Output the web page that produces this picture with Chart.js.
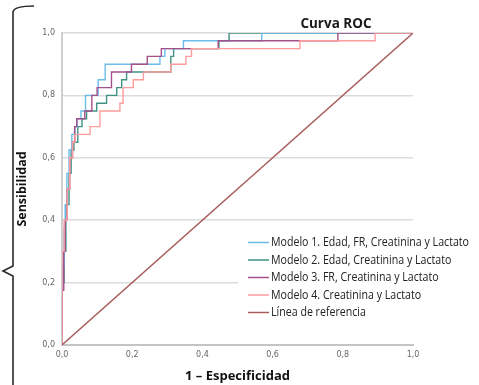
<!DOCTYPE html>
<html lang="es">
<head>
<meta charset="utf-8">
<title>Curva ROC</title>
<script src="https://cdn.jsdelivr.net/npm/chart.js@4.4.1/dist/chart.umd.min.js"></script>
<style>
  html, body { margin: 0; padding: 0; background: #fff; }
  canvas { display: block; }
</style>
</head>
<body>
<canvas id="roc" width="479" height="385"></canvas>
<script>
// ROC step points: the curve moves right to fpr, then up to tpr
const m1Fpr = [0, 0, 0.006, 0.009, 0.014, 0.02, 0.028, 0.037, 0.043, 0.054, 0.067, 0.103, 0.123, 0.279, 0.293, 0.346, 0.569, 1];
const m1Tpr = [0, 0.25, 0.375, 0.45, 0.55, 0.625, 0.675, 0.7, 0.725, 0.75, 0.8, 0.85, 0.9, 0.925, 0.95, 0.975, 1, 1];

const m2Fpr = [0, 0, 0.006, 0.011, 0.02, 0.026, 0.034, 0.045, 0.057, 0.07, 0.099, 0.127, 0.156, 0.17, 0.184, 0.31, 0.318, 0.447, 0.476, 1];
const m2Tpr = [0, 0.2, 0.3, 0.45, 0.55, 0.625, 0.65, 0.7, 0.725, 0.75, 0.775, 0.8, 0.825, 0.85, 0.875, 0.925, 0.95, 0.975, 1, 1];

const m3Fpr = [0, 0, 0.005, 0.009, 0.015, 0.022, 0.03, 0.036, 0.042, 0.065, 0.085, 0.1, 0.141, 0.198, 0.243, 0.283, 0.445, 0.786, 1];
const m3Tpr = [0, 0.175, 0.3, 0.4, 0.5, 0.6, 0.65, 0.7, 0.725, 0.75, 0.8, 0.825, 0.875, 0.9, 0.925, 0.95, 0.975, 1, 1];

const m4Fpr = [0, 0, 0.006, 0.015, 0.022, 0.03, 0.037, 0.08, 0.108, 0.165, 0.174, 0.203, 0.232, 0.31, 0.353, 0.369, 0.678, 0.892, 1];
const m4Tpr = [0, 0.3, 0.4, 0.5, 0.6, 0.65, 0.675, 0.7, 0.75, 0.775, 0.825, 0.85, 0.875, 0.9, 0.925, 0.95, 0.975, 1, 1];

const refFpr = [0, 1];
const refTpr = [0, 1];

const seriesLabels = [
    'Modelo 1. Edad, FR, Creatinina y Lactato',
    'Modelo 2. Edad, Creatinina y Lactato',
    'Modelo 3. FR, Creatinina y Lactato',
    'Modelo 4. Creatinina y Lactato',
    'Línea de referencia'
];
const seriesColors = ['#6cbcec', '#3f9284', '#a4508a', '#ff9c9c', '#a85c5c'];
const tickValues = [0, 0.2, 0.4, 0.6, 0.8, 1.0];

const toPoints = (xs, ys) => xs.map((x, i) => ({ x: x, y: ys[i] }));

// Decimal comma like the original (SPSS, Spanish locale)
const fmt = v => v.toFixed(1).replace('.', ',');

// Title, legend box and the hand-drawn brace on the left
const decorations = {
    id: 'decorations',
    afterDraw(chart) {
        const ctx = chart.ctx;
        ctx.save();

        // title
        ctx.fillStyle = '#1a1a1a';
        ctx.font = 'bold 13.5px "Open Sans", sans-serif';
        ctx.textAlign = 'center';
        ctx.textBaseline = 'middle';
        ctx.fillText('Curva ROC', 336, 24);

        // legend (text squeezed to look like the condensed face of the original)
        ctx.fillStyle = '#fff';
        ctx.fillRect(238, 232, 238, 90);
        ctx.font = '12.5px "Open Sans", sans-serif';
        ctx.textAlign = 'left';
        const squeeze = 198 / ctx.measureText(seriesLabels[0]).width;
        chart.data.datasets.forEach((ds, i) => {
            const y = 242.5 + i * 17.5;
            ctx.strokeStyle = ds.borderColor;
            ctx.lineWidth = 1.5;
            ctx.beginPath();
            ctx.moveTo(248, y);
            ctx.lineTo(269, y);
            ctx.stroke();
            ctx.save();
            ctx.translate(271, y);
            ctx.scale(squeeze, 1);
            ctx.fillStyle = '#222';
            ctx.fillText(ds.label, 0, 0);
            ctx.restore();
        });

        // brace
        ctx.strokeStyle = '#2a2a2a';
        ctx.lineWidth = 1.6;
        ctx.beginPath();
        ctx.moveTo(34, 6);
        ctx.quadraticCurveTo(14, 6, 13, 12);
        ctx.lineTo(13, 266);
        ctx.lineTo(3, 271);
        ctx.lineTo(13, 276);
        ctx.lineTo(13, 385);
        ctx.stroke();

        ctx.restore();
    }
};

const ctx = document.getElementById('roc').getContext('2d');

new Chart(ctx, {
    type: 'scatter',
    data: {
        datasets: [
            { label: seriesLabels[0], data: toPoints(m1Fpr, m1Tpr), borderColor: seriesColors[0], order: 3 },
            { label: seriesLabels[1], data: toPoints(m2Fpr, m2Tpr), borderColor: seriesColors[1], order: 4 },
            { label: seriesLabels[2], data: toPoints(m3Fpr, m3Tpr), borderColor: seriesColors[2], order: 2 },
            { label: seriesLabels[3], data: toPoints(m4Fpr, m4Tpr), borderColor: seriesColors[3], order: 1 },
            { label: seriesLabels[4], data: toPoints(refFpr, refTpr), borderColor: seriesColors[4], order: 0, stepped: false }
        ].map(ds => ({
            stepped: 'before',
            ...ds,
            showLine: true,
            borderWidth: 1.4,
            pointRadius: 0,
            fill: false
        }))
    },
    options: {
        responsive: false,
        animation: false,
        devicePixelRatio: 1,
        layout: {
            padding: { top: 33, right: 66, left: 0, bottom: 0 }
        },
        plugins: {
            legend: { display: false },
            tooltip: { enabled: false },
            title: { display: false }
        },
        scales: {
            x: {
                type: 'linear',
                min: 0,
                max: 1,
                afterFit: scale => { scale.height = 40; },
                afterBuildTicks: scale => { scale.ticks = tickValues.map(v => ({ value: v })); },
                ticks: {
                    callback: v => fmt(v),
                    color: '#666',
                    font: { family: '"DejaVu Sans", sans-serif', size: 8 },
                    padding: 5,
                    maxRotation: 0
                },
                grid: { display: false, drawTicks: false },
                border: { color: '#c4c4c4', width: 2 },
                title: {
                    display: true,
                    text: '1 – Especificidad',
                    color: '#111',
                    font: { family: '"Open Sans", sans-serif', size: 13, weight: 'bold' },
                    padding: { top: 0, bottom: 1 }
                }
            },
            y: {
                type: 'linear',
                min: 0,
                max: 1,
                afterFit: scale => { scale.width = 62; },
                afterBuildTicks: scale => { scale.ticks = tickValues.map(v => ({ value: v })); },
                ticks: {
                    callback: v => fmt(v),
                    color: '#666',
                    font: { family: '"DejaVu Sans", sans-serif', size: 8 },
                    padding: 7
                },
                grid: { color: '#dcdcdc', lineWidth: 1.5, drawTicks: false },
                border: { color: '#cfcfcf', width: 2 },
                title: {
                    display: true,
                    text: 'Sensibilidad',
                    color: '#111',
                    font: { family: '"Open Sans", sans-serif', size: 12.5, weight: 'bold' },
                    padding: { top: 15, bottom: 0 }
                }
            }
        }
    },
    plugins: [decorations]
});
</script>
</body>
</html>
